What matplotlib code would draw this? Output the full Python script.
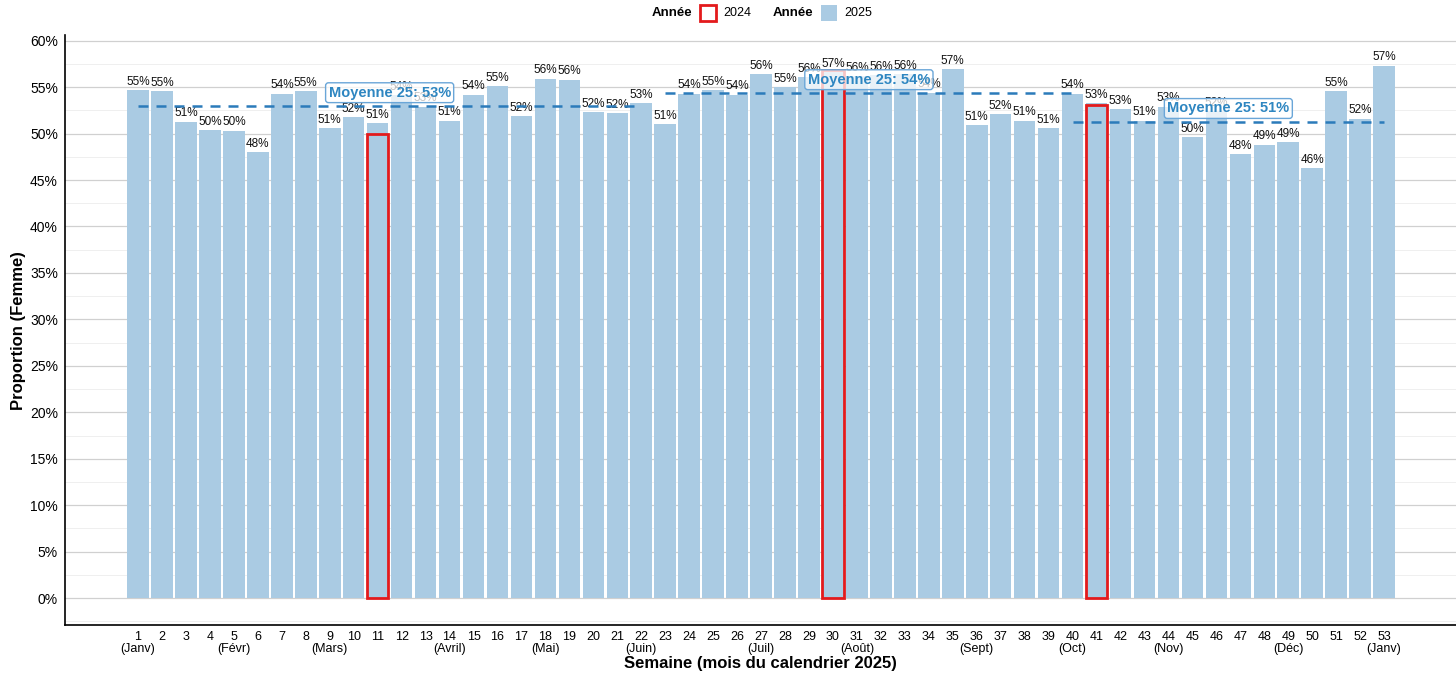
import matplotlib.pyplot as plt
from matplotlib.patches import Rectangle
from matplotlib.ticker import FuncFormatter, MultipleLocator

plt.rcParams['font.family'] = ['Liberation Sans', 'DejaVu Sans']

# données (proportion de femmes, en %)
weeks = list(range(1, 54))
prop_2025 = [54.7, 54.6, 51.3, 50.4, 50.3, 48.0, 54.3, 54.6, 50.6, 51.8,
             51.1, 54.1, 52.9, 51.4, 54.2, 55.1, 51.9, 55.9, 55.8, 52.3,
             52.2, 53.3, 51.0, 54.3, 54.7, 54.2, 56.4, 55.0, 56.1, 56.6,
             56.2, 56.3, 56.4, 54.4, 56.9, 50.9, 52.1, 51.4, 50.6, 54.3,
             53.3, 52.6, 51.4, 52.9, 49.6, 52.4, 47.8, 48.8, 49.1, 46.3,
             54.6, 51.6, 57.3]
weeks_2024 = [11, 30, 41]
prop_2024 = [50.0, 56.8, 53.1]

month_weeks = [1, 5, 9, 14, 18, 22, 27, 31, 36, 40, 44, 49, 53]
month_names = ['Janv', 'Févr', 'Mars', 'Avril', 'Mai', 'Juin', 'Juil',
               'Août', 'Sept', 'Oct', 'Nov', 'Déc', 'Janv']

mean_start = [1, 23, 40]
mean_end = [22, 40, 53]
mean_val = [53.0, 54.4, 51.3]

bar_color = '#aacbe3'
red = '#e31a1c'
line_blue = '#2b7bba'

fig = plt.figure(figsize=(14.56, 6.75), dpi=100)
ax = fig.add_axes([0.0446, 0.074, 0.9554, 0.874])

# barres 2025 puis contours 2024
ax.bar(weeks, prop_2025, width=0.9, color=bar_color, zorder=2)
ax.bar(weeks_2024, prop_2024, width=0.9, fill=False, edgecolor=red,
       linewidth=2, zorder=3)

for w, v in zip(weeks, prop_2025):
    ax.text(w, v + 0.25, f'{v:.0f}%', ha='center', va='bottom',
            fontsize=8.5, color='#111111', zorder=4)

# moyennes par période
for s, e, v in zip(mean_start, mean_end, mean_val):
    ax.hlines(v, s, e, colors=line_blue, linestyles=(0, (4, 3.2)),
              linewidth=1.8, zorder=5)
    ax.text((s + e) / 2, v + 1.4, f'Moyenne 25: {v:.0f}%', ha='center',
            va='center', fontsize=10.5, fontweight='bold', color='#2e86c1',
            bbox=dict(boxstyle='round,pad=0.2', fc=(1, 1, 1, 0.75),
                      ec='#6aa6d8', lw=1), zorder=6)

# axes
ax.set_xlim(-2.05, 56)
ax.set_ylim(-2.9, 60.6)
ax.yaxis.set_major_locator(MultipleLocator(5))
ax.yaxis.set_minor_locator(MultipleLocator(2.5))
ax.yaxis.set_major_formatter(FuncFormatter(lambda y, p: f'{y:.0f}%'))
ax.grid(axis='y', which='major', color='#d0d0d0', linewidth=0.9, zorder=0)
ax.grid(axis='y', which='minor', color='#ececec', linewidth=0.6, zorder=0)
ax.set_axisbelow(True)

xt_labels = []
for w in weeks:
    if w in month_weeks:
        xt_labels.append(f'{w}\n({month_names[month_weeks.index(w)]})')
    else:
        xt_labels.append(f'{w}')
ax.set_xticks(weeks)
ax.set_xticklabels(xt_labels, fontsize=9, linespacing=1.05,
                   family=['Liberation Sans Narrow', 'Liberation Sans', 'DejaVu Sans'])
ax.tick_params(axis='both', which='both', length=0)
ax.tick_params(axis='x', pad=4)
ax.tick_params(axis='y', labelsize=10, pad=5)

for sp in ['top', 'right']:
    ax.spines[sp].set_visible(False)
for sp in ['left', 'bottom']:
    ax.spines[sp].set_color('black')
    ax.spines[sp].set_linewidth(1.2)

ax.set_xlabel('Semaine (mois du calendrier 2025)', fontsize=12,
              fontweight='bold', labelpad=1)
ax.set_ylabel('Proportion (Femme)', fontsize=12, fontweight='bold', labelpad=3)

# légende en haut
fy = 1 - 13 / 675
fig.text(652 / 1456, fy, 'Année', fontsize=9.5, fontweight='bold', va='center')
fig.patches.append(Rectangle((700 / 1456, 1 - 21 / 675), 16 / 1456, 16 / 675,
                             transform=fig.transFigure, fill=False,
                             edgecolor=red, linewidth=2))
fig.text(723 / 1456, fy, '2024', fontsize=9, va='center')
fig.text(773 / 1456, fy, 'Année', fontsize=9.5, fontweight='bold', va='center')
fig.patches.append(Rectangle((821 / 1456, 1 - 21 / 675), 16 / 1456, 16 / 675,
                             transform=fig.transFigure, facecolor=bar_color,
                             edgecolor='none'))
fig.text(844 / 1456, fy, '2025', fontsize=9, va='center')

fig.savefig('out.png', dpi=100)
